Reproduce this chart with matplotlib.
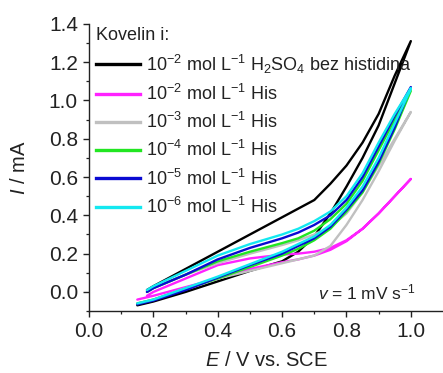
import matplotlib
matplotlib.use("Agg")
import matplotlib.pyplot as plt
from matplotlib.lines import Line2D
from matplotlib.ticker import FormatStrFormatter

plt.rcParams['font.family'] = ['Liberation Sans', 'DejaVu Sans']
plt.rcParams['mathtext.fontset'] = 'custom'
plt.rcParams['mathtext.rm'] = 'Liberation Sans'
plt.rcParams['mathtext.it'] = 'Liberation Sans:italic'
plt.rcParams['mathtext.default'] = 'regular'

# Potential grids (V vs. SCE) for the anodic and cathodic sweeps
E_fwd = [0.15, 0.20, 0.30, 0.40, 0.50, 0.60, 0.65, 0.70, 0.75, 0.80, 0.85, 0.90, 0.95, 1.00]
E_rev = [1.00, 0.95, 0.90, 0.85, 0.80, 0.75, 0.70, 0.65, 0.60, 0.50, 0.40, 0.30, 0.20, 0.18]

# Currents (mA)
I_h2so4_fwd = [-0.07, -0.05, 0.00, 0.055, 0.11, 0.16, 0.21, 0.29, 0.41, 0.55, 0.70, 0.87, 1.09, 1.31]
I_h2so4_rev = [1.31, 1.13, 0.93, 0.78, 0.66, 0.565, 0.48, 0.435, 0.39, 0.30, 0.21, 0.12, 0.03, 0.01]

I_his2_fwd = [-0.04, -0.02, 0.025, 0.07, 0.12, 0.155, 0.17, 0.19, 0.22, 0.265, 0.33, 0.41, 0.50, 0.59]
I_his2_rev = [0.59, 0.50, 0.41, 0.33, 0.27, 0.23, 0.21, 0.20, 0.195, 0.175, 0.14, 0.07, 0.00, -0.02]

I_his3_fwd = [-0.06, -0.04, 0.02, 0.07, 0.11, 0.15, 0.17, 0.19, 0.24, 0.35, 0.48, 0.63, 0.79, 0.94]
I_his3_rev = [0.94, 0.80, 0.66, 0.52, 0.41, 0.34, 0.30, 0.27, 0.245, 0.20, 0.15, 0.09, 0.02, 0.00]

I_his4_fwd = [-0.06, -0.04, 0.015, 0.07, 0.13, 0.19, 0.225, 0.27, 0.33, 0.42, 0.52, 0.67, 0.85, 1.05]
I_his4_rev = [1.05, 0.90, 0.74, 0.58, 0.46, 0.38, 0.32, 0.28, 0.255, 0.21, 0.16, 0.09, 0.02, 0.00]

I_his5_fwd = [-0.065, -0.045, 0.01, 0.075, 0.14, 0.20, 0.24, 0.28, 0.34, 0.43, 0.53, 0.68, 0.86, 1.07]
I_his5_rev = [1.07, 0.92, 0.76, 0.60, 0.48, 0.40, 0.35, 0.31, 0.28, 0.23, 0.17, 0.09, 0.02, 0.00]

I_his6_fwd = [-0.06, -0.04, 0.02, 0.08, 0.145, 0.21, 0.25, 0.29, 0.35, 0.44, 0.55, 0.70, 0.88, 1.06]
I_his6_rev = [1.065, 0.93, 0.78, 0.62, 0.50, 0.42, 0.37, 0.33, 0.30, 0.25, 0.19, 0.11, 0.03, 0.01]

labels = [
    r'10$^{-2}$ mol L$^{-1}$ H$_2$SO$_4$ bez histidina',
    r'10$^{-2}$ mol L$^{-1}$ His',
    r'10$^{-3}$ mol L$^{-1}$ His',
    r'10$^{-4}$ mol L$^{-1}$ His',
    r'10$^{-5}$ mol L$^{-1}$ His',
    r'10$^{-6}$ mol L$^{-1}$ His',
]
colors = ['#000000', '#ff22ff', '#c0c0c0', '#22e622', '#0a0ad2', '#14e8f0']
series = [
    (I_h2so4_fwd, I_h2so4_rev),
    (I_his2_fwd, I_his2_rev),
    (I_his3_fwd, I_his3_rev),
    (I_his4_fwd, I_his4_rev),
    (I_his5_fwd, I_his5_rev),
    (I_his6_fwd, I_his6_rev),
]

fig = plt.figure(figsize=(4.43, 3.73), dpi=100)
ax = fig.add_axes([0.201, 0.166, 0.799, 0.770])

lw = 1.7
for (fwd, rev), c in zip(series, colors):
    ax.plot(E_fwd + E_rev, fwd + rev, color=c, lw=lw, solid_capstyle='round',
            solid_joinstyle='round')

ax.set_xlim(0.0, 1.1)
ax.set_ylim(-0.1, 1.4)
ax.set_xticks([0.0, 0.2, 0.4, 0.6, 0.8, 1.0])
ax.set_xticks([0.1, 0.3, 0.5, 0.7, 0.9], minor=True)
ax.set_yticks([0.0, 0.2, 0.4, 0.6, 0.8, 1.0, 1.2, 1.4])
ax.set_yticks([-0.1, 0.1, 0.3, 0.5, 0.7, 0.9, 1.1, 1.3], minor=True)
ax.xaxis.set_major_formatter(FormatStrFormatter('%.1f'))
ax.yaxis.set_major_formatter(FormatStrFormatter('%.1f'))
ax.tick_params(which='major', direction='out', length=4, width=1.0,
               labelsize=15, colors='#222222', pad=4)
ax.tick_params(which='minor', direction='out', length=2.5, width=0.9, colors='#222222')
for s in ('top', 'right'):
    ax.spines[s].set_visible(False)
for s in ('left', 'bottom'):
    ax.spines[s].set_linewidth(1.0)
    ax.spines[s].set_color('#222222')

ax.set_xlabel(r'$\it{E}$ / V vs. SCE', fontsize=14.5, color='#222222', labelpad=7)
ax.set_ylabel(r'$\it{I}$ / mA', fontsize=14.5, color='#222222', labelpad=14)

handles = [Line2D([], [], color=c, lw=2.4) for c in colors]
leg = ax.legend(handles, labels, title='Kovelin i:', loc='upper left',
                frameon=False, fontsize=13, title_fontsize=13,
                handlelength=2.4, handletextpad=0.35, labelspacing=0.45,
                borderaxespad=0.0, borderpad=0.2, alignment='left',
                bbox_to_anchor=(0.01, 1.0))
for t in leg.get_texts():
    t.set_color('#222222')
leg.get_title().set_color('#222222')

ax.text(0.925, 0.065, r'$\it{v}$ = 1 mV s$^{-1}$', transform=ax.transAxes,
        ha='right', va='center', fontsize=12.5, color='#222222')

fig.savefig('out.png', dpi=100)
